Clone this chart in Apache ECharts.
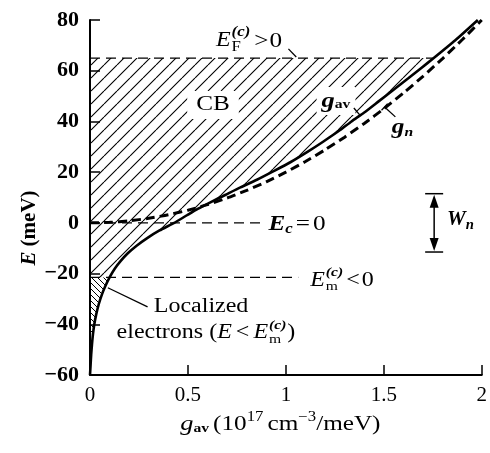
<!DOCTYPE html>
<html><head><meta charset="utf-8">
<script src="https://cdn.jsdelivr.net/npm/echarts@6/dist/echarts.min.js"></script>
<style>html,body{margin:0;padding:0;background:#fff}#c{width:490px;height:453px}</style>
</head><body><div id="c"></div>
<script>
// ---------- data ----------
const xTicks = [0, 0.5, 1, 1.5, 2];
const yTicks = [-60, -40, -20, 0, 20, 40, 60, 80];
// g_av (solid): [g, E]
const gAv = [[0,-60],[0.003,-56],[0.006,-52],[0.010,-48],[0.015,-44],[0.022,-40],[0.032,-36],[0.045,-32],[0.062,-28],[0.078,-25],[0.100,-21.5],[0.127,-18],[0.157,-15],[0.193,-12],[0.238,-9],[0.292,-6],[0.355,-3],[0.43,0],[0.495,3],[0.55,5.5],[0.612,8],[0.69,11],[0.768,14],[0.852,17],[0.94,20.5],[1.025,24],[1.11,28],[1.19,32],[1.275,36.5],[1.335,40],[1.40,43.5],[1.475,48],[1.55,52.5],[1.625,57],[1.69,61],[1.755,65],[1.865,72],[1.98,80]];
// g_n (dashed): [g, E]
const gN = [[0,0],[0.1,0.2],[0.2,0.8],[0.3,1.8],[0.4,3.2],[0.5,5],[0.6,7.2],[0.7,9.8],[0.8,12.8],[0.9,16.2],[1.0,20],[1.1,24.2],[1.2,28.8],[1.3,33.8],[1.4,39.2],[1.5,45],[1.6,51.2],[1.7,57.8],[1.8,64.8],[1.9,72.2],[2.0,80]];
const EF = 65, EC = 0, EM = -21.5;
const EC_end = 0.886, EM_end = 1.063;
const localizedBottom = -44;
const Wn = [1.757, -11.5, 11.5];
// ---------- styles / annotation anchors ----------
const FONT = '"Liberation Serif","Times New Roman",serif';
const SX = 1.2; // horizontal stretch of annotation text
const anchor = {
  EF: [0.643, 71.7], EFptr: [[1.013, 68.6], [1.053, 65.4]],
  CB: [0.628, 46.5],
  gav: [1.256, 48.1], gavPtr: [[1.347, 45.3], [1.377, 42.6]],
  gn: [1.595, 37.4], gnPtr: [[1.504, 45.7], [1.559, 41.8]],
  EC: [0.911, -0.8], EM: [1.124, -22.9], W: [1.823, 1.1],
  loc1: [0.567, -33], loc2: [0.592, -43.5], locPtr: [[0.294, -33.1], [0.091, -25.6]],
  xTitle: [0.972, -79.5], yTitle: [-0.309, -2]
};
const EF_end = gAv.find(p => p[1] === EF)[0];

const mctx = document.createElement('canvas').getContext('2d');
function P(t, size, o) { o = o || {}; return {t, size, style: o.i ? 'italic' : 'normal', weight: o.b ? 'bold' : 'normal', dy: o.dy || 0, gap: o.gap || 0}; }
function cssFont(p) { return p.style + ' ' + p.weight + ' ' + p.size + 'px ' + FONT; }
function tw(p) { mctx.font = cssFont(p); return mctx.measureText(p.t).width; }
function txt(p, x, y, sx) {
  return {type: 'text', x: x, y: y + p.dy, scaleX: sx, style: {text: p.t, fontSize: p.size, fontFamily: FONT, fontStyle: p.style, fontWeight: p.weight, fill: '#000', align: 'left', verticalAlign: 'middle'}};
}
function row(items, x, y, align, bg, sx) {
  sx = sx || SX;
  const ws = items.map(it => sx * (it.stack ? Math.max.apply(null, it.stack.map(tw)) : tw(it)));
  let total = 0; items.forEach((it, i) => total += ws[i] + (it.gap || 0));
  let cx = align === 'center' ? x - total / 2 : x;
  const out = [];
  if (bg) out.push({type: 'rect', shape: {x: cx - bg[0], y: y - bg[1], width: total + 2 * bg[0], height: 2 * bg[1]}, style: {fill: '#fff'}});
  items.forEach((it, i) => {
    cx += it.gap || 0;
    if (it.stack) it.stack.forEach(q => out.push(txt(q, cx, y, sx)));
    else out.push(txt(it, cx, y, sx));
    cx += ws[i];
  });
  return out;
}
function hatch(s, dir, lw) {
  const c = document.createElement('canvas'); c.width = c.height = s;
  const x = c.getContext('2d'); x.strokeStyle = '#000'; x.lineWidth = lw; x.beginPath();
  for (let k = -1; k <= 1; k++) {
    if (dir === '/') { x.moveTo(k * s, s); x.lineTo(k * s + s, 0); }
    else { x.moveTo(k * s, 0); x.lineTo(k * s + s, s); }
  }
  x.stroke(); return c;
}
const patUp = {image: hatch(13, '/', 1.1), repeat: 'repeat'};
const patLo = {image: hatch(6, '\\', 1.0), repeat: 'repeat'};

const chart = echarts.init(document.getElementById('c'), null, {renderer: 'canvas'});
const minus = v => String(v).replace('-', '\u2212');
function seg(a, b, w) { return {type: 'line', shape: {x1: a[0], y1: a[1], x2: b[0], y2: b[1]}, style: {stroke: '#000', lineWidth: w || 1.3}}; }

chart.setOption({
  animation: false,
  grid: {left: 90, right: 5, top: 20, bottom: 78},
  xAxis: {type: 'value', min: 0, max: 2, interval: 0.5,
    axisLine: {onZero: false, lineStyle: {color: '#000', width: 2}},
    axisTick: {inside: true, length: 10, lineStyle: {color: '#000', width: 1.5}},
    splitLine: {show: false},
    axisLabel: {margin: 10, color: '#000', fontFamily: FONT, fontSize: 21, formatter: v => xTicks.includes(v) ? minus(v) : ''}},
  yAxis: {type: 'value', min: -60, max: 80, interval: 20,
    axisLine: {onZero: false, lineStyle: {color: '#000', width: 2}},
    axisTick: {inside: true, length: 10, lineStyle: {color: '#000', width: 1.5}},
    splitLine: {show: false},
    axisLabel: {margin: 11, color: '#000', fontFamily: FONT, fontSize: 22, fontWeight: 'bold', formatter: v => yTicks.includes(v) ? minus(v) : ''}},
  series: [
    {type: 'custom', z: 1, silent: true, data: [[0, 0]],
      renderItem: (params, api) => {
        const up = gAv.filter(p => p[1] >= EM && p[1] <= EF);
        const pts = [api.coord([0, EM])].concat(up.map(p => api.coord(p)), [api.coord([0, EF])]);
        const lo = gAv.filter(p => p[1] <= EM && p[1] >= localizedBottom);
        const pts2 = [api.coord([0, localizedBottom])].concat(lo.map(p => api.coord(p)), [api.coord([0, EM])]);
        return {type: 'group', children: [
          {type: 'polygon', shape: {points: pts}, style: {fill: patUp}},
          {type: 'polygon', shape: {points: pts2}, style: {fill: patLo}}
        ]};
      }},
    {type: 'line', z: 2, data: [[0, EF], [EF_end, EF]], symbol: 'none', lineStyle: {color: '#000', width: 1.3, type: [10, 6]}},
    {type: 'line', z: 2, data: [[0, EC], [EC_end, EC]], symbol: 'none', lineStyle: {color: '#000', width: 1.3, type: [10, 6]}},
    {type: 'line', z: 2, data: [[0, EM], [EM_end, EM]], symbol: 'none', lineStyle: {color: '#000', width: 1.3, type: [10, 6]}},
    {type: 'line', z: 3, data: gN, symbol: 'none', smooth: 0.2, lineStyle: {color: '#000', width: 3, type: [9, 5]}},
    {type: 'line', z: 3, data: gAv, symbol: 'none', smooth: 0.2, lineStyle: {color: '#000', width: 2.6}},
    {type: 'custom', z: 4, silent: true, clip: false, data: [[0, 0]],
      renderItem: (params, api) => {
        const c = a => api.coord(a);
        let ch = [];
        let p;
        // E_F label
        p = c(anchor.EF);
        ch = ch.concat(row([P('E', 20, {i: 1}), {stack: [P('F', 14, {dy: 6}), P('(c)', 14, {i: 1, b: 1, dy: -9})], gap: 1}, P('>', 21, {gap: 4}), P('0', 21, {gap: 1})], p[0], p[1], 'left'));
        ch.push(seg(c(anchor.EFptr[0]), c(anchor.EFptr[1])));
        // CB
        p = c(anchor.CB);
        ch = ch.concat(row([P('CB', 21)], p[0], p[1], 'center', [9, 14]));
        // g_av
        p = c(anchor.gav);
        ch = ch.concat(row([P('g', 22, {i: 1, b: 1}), P('av', 13, {b: 1, dy: 4})], p[0], p[1], 'center', [5, 14]));
        ch.push(seg(c(anchor.gavPtr[0]), c(anchor.gavPtr[1])));
        // g_n
        p = c(anchor.gn);
        ch = ch.concat(row([P('g', 21, {i: 1, b: 1}), P('n', 13, {i: 1, b: 1, dy: 5})], p[0], p[1], 'center'));
        const a = c(anchor.gnPtr[0]), b = c(anchor.gnPtr[1]);
        ch.push(seg(a, b));
        const dx = b[0] - a[0], dyy = b[1] - a[1], L = Math.hypot(dx, dyy);
        const nx = -dyy / L * 4.5, ny = dx / L * 4.5;
        ch.push(seg([a[0] + nx, a[1] + ny], [a[0] - nx, a[1] - ny]));
        // E_c = 0
        p = c(anchor.EC);
        ch = ch.concat(row([P('E', 21, {i: 1, b: 1}), P('c', 14, {i: 1, b: 1, dy: 5}), P('=', 21, {gap: 3}), P('0', 21, {gap: 3})], p[0], p[1], 'left'));
        // E_m < 0
        p = c(anchor.EM);
        ch = ch.concat(row([P('E', 20, {i: 1}), {stack: [P('m', 13, {dy: 6}), P('(c)', 13, {i: 1, b: 1, dy: -8})], gap: 1}, P('<', 20, {gap: 3}), P('0', 20, {gap: 2})], p[0], p[1], 'left'));
        // W_n arrow
        const t = c([Wn[0], Wn[2]]), bt = c([Wn[0], Wn[1]]);
        ch.push(seg([t[0] - 9, t[1]], [t[0] + 9, t[1]], 1.5));
        ch.push(seg([bt[0] - 9, bt[1]], [bt[0] + 9, bt[1]], 1.5));
        ch.push(seg([t[0], t[1] + 8], [bt[0], bt[1] - 8], 1.5));
        ch.push({type: 'polygon', shape: {points: [[t[0], t[1] + 1], [t[0] - 4.5, t[1] + 14], [t[0] + 4.5, t[1] + 14]]}, style: {fill: '#000'}});
        ch.push({type: 'polygon', shape: {points: [[bt[0], bt[1] - 1], [bt[0] - 4.5, bt[1] - 14], [bt[0] + 4.5, bt[1] - 14]]}, style: {fill: '#000'}});
        p = c(anchor.W);
        ch = ch.concat(row([P('W', 20, {i: 1, b: 1}), P('n', 14, {i: 1, b: 1, dy: 5})], p[0], p[1], 'left', null, 1.05));
        // Localized electrons
        p = c(anchor.loc1);
        ch = ch.concat(row([P('Localized', 20)], p[0], p[1], 'center'));
        p = c(anchor.loc2);
        ch = ch.concat(row([P('electrons (', 20), P('E', 20, {i: 1}), P('<', 20, {gap: 4}), P('E', 20, {i: 1, gap: 4}), {stack: [P('m', 13, {dy: 6}), P('(c)', 13, {i: 1, b: 1, dy: -8})], gap: 1}, P(')', 20, {gap: 1})], p[0], p[1], 'center'));
        ch.push(seg(c(anchor.locPtr[0]), c(anchor.locPtr[1])));
        // x title
        p = c(anchor.xTitle);
        ch = ch.concat(row([P('g', 22, {i: 1}), P('av', 13, {b: 1, dy: 4}), P('(10', 21, {gap: 4}), P('17', 14, {dy: -7}), P('cm', 21, {gap: 4}), P('\u22123', 14, {dy: -7}), P('/meV)', 21)], p[0], p[1], 'center'));
        // y title (rotated)
        p = c(anchor.yTitle);
        ch.push({type: 'group', x: p[0], y: p[1], rotation: Math.PI / 2,
          children: row([P('E', 21, {i: 1, b: 1}), P('(meV)', 21, {b: 1, gap: 5})], 0, 0, 'center', null, 1)});
        return {type: 'group', children: ch};
      }}
  ]
});
</script></body></html>
